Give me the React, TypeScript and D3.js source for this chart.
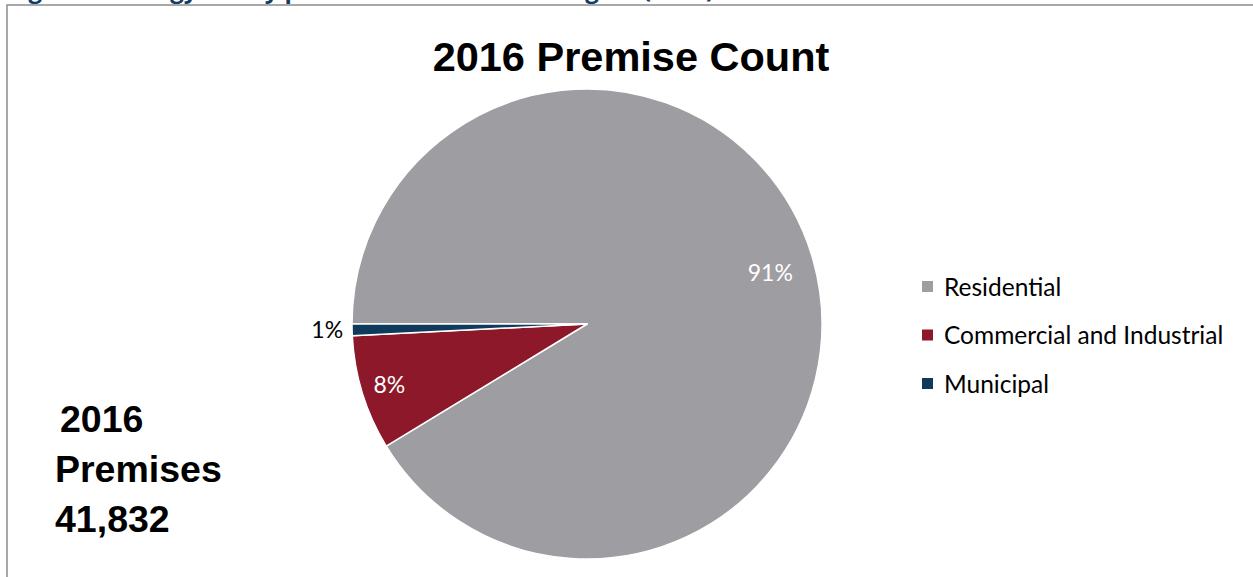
import React from "react";
import * as d3 from "d3";

const categories = ["Residential", "Commercial and Industrial", "Municipal"];
const shares = [91.3, 7.9, 0.8];
const colors = ["#9e9da2", "#8c1829", "#0f3a5c"];
const chartTitle = "2016 Premise Count";
const sideLines = ["2016", "Premises", "41,832"];
const figureCaption = "Figure 1: Energy Utility premises Count of the Region (2016)";

const W = 1253;
const H = 577;

export default function App() {
  const cx = 587;
  const cy = 324;
  const r = 235;
  const data = categories.map((c, i) => ({ c, v: shares[i], color: colors[i] }));
  const pie = d3
    .pie<any>()
    .sort(null)
    .value((d: any) => d.v)
    .startAngle(-Math.PI / 2)
    .endAngle((3 * Math.PI) / 2);
  const arcs = pie(data);
  const arc = d3.arc<any>().innerRadius(0).outerRadius(r);
  const total = d3.sum(shares);
  const fmt = (v: number) => `${Math.round((v / total) * 100)}%`;
  const labelK = [0.81, 0.88];
  const labelFont = "Lato, 'Open Sans', sans-serif";

  return (
    <svg
      width={W}
      height={H}
      style={{ position: "absolute", left: 0, top: 0, background: "#fff" }}
      fontFamily={labelFont}
    >
      <text
        x={8}
        y={-2}
        fontSize={24}
        fontWeight="bold"
        fill="#123c63"
        fontFamily="'Open Sans', sans-serif"
      >
        {figureCaption}
      </text>
      <rect x={7} y={5} width={W + 10} height={H + 10} fill="none" stroke="#8c8c8c" strokeWidth={1.5} />
      <text x={631} y={71} textAnchor="middle" fontSize={41.5} fontWeight="bold" fontFamily="'Liberation Sans', Arial, sans-serif" fill="#000">
        {chartTitle}
      </text>
      <g transform={`translate(${cx},${cy})`}>
        {arcs.map((a, i) => (
          <path key={i} d={arc(a) as string} fill={a.data.color} stroke="#fff" strokeWidth={1.5} strokeLinejoin="round" />
        ))}
        {arcs.map((a, i) => {
          if (i === 2) {
            const mid = (a.startAngle + a.endAngle) / 2;
            const x = Math.sin(mid) * (r + 9);
            const y = -Math.cos(mid) * (r + 9);
            return (
              <text key={"l" + i} x={x} y={y} dy="0.35em" textAnchor="end" fontSize={23} fill="#000">
                {fmt(a.data.v)}
              </text>
            );
          }
          const la = d3.arc<any>().innerRadius(r * labelK[i]).outerRadius(r * labelK[i]);
          const [x, y] = la.centroid(a);
          return (
            <text key={"l" + i} x={x} y={y} dy="0.35em" textAnchor="middle" fontSize={23} fill="#fff">
              {fmt(a.data.v)}
            </text>
          );
        })}
      </g>
      {categories.map((c, i) => (
        <g key={c} transform={`translate(922,${287 + i * 48.5})`}>
          <rect x={0} y={-6} width={11} height={11} fill={colors[i]} />
          <text x={22} y={0} dy="0.35em" fontSize={24.5} fill="#000">
            {c}
          </text>
        </g>
      ))}
      {sideLines.map((t, i) => (
        <text
          key={t}
          x={i === 0 ? 60 : 55}
          y={432 + i * 50}
          fontSize={37.5}
          fontWeight="bold"
          fontFamily="'Liberation Sans', Arial, sans-serif"
          fill="#000"
        >
          {t}
        </text>
      ))}
    </svg>
  );
}
